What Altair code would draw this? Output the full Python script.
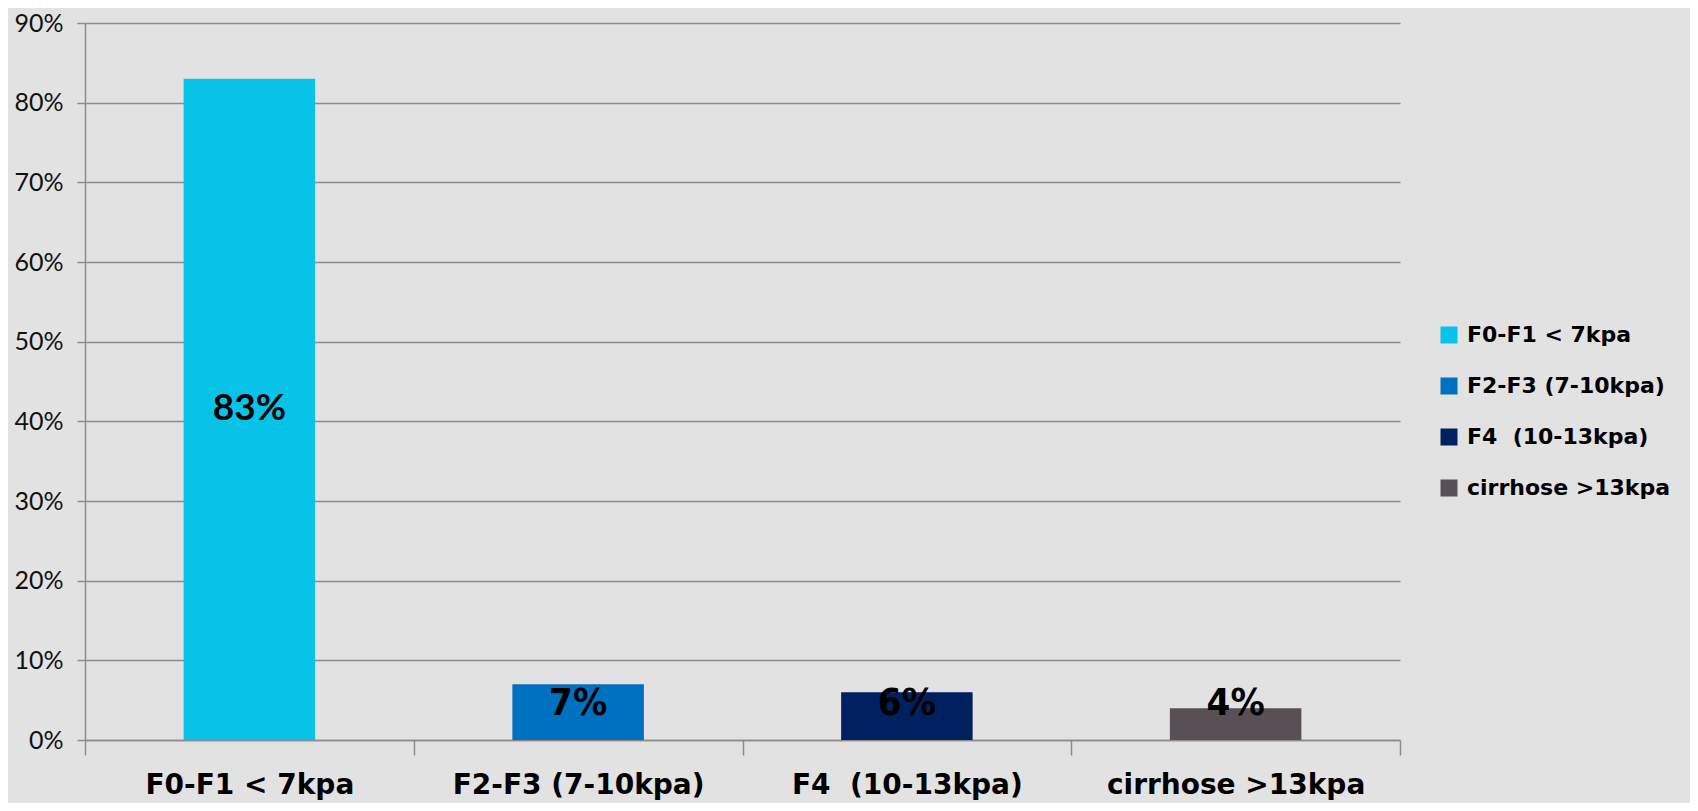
import altair as alt
import pandas as pd

categories = ["F0-F1 < 7kpa", "F2-F3 (7-10kpa)", "F4 \u00a0(10-13kpa)", "cirrhose >13kpa"]
values = [83, 7, 6, 4]
colors = ["#08C2E8", "#0070C0", "#002060", "#595055"]
y_ticks = [0, 10, 20, 30, 40, 50, 60, 70, 80, 90]

df = pd.DataFrame({"category": categories, "value": values})

GRID = "#8c8c8c"

x_scale = alt.Scale(paddingInner=0, paddingOuter=0)
x_axis = alt.Axis(
    labelAngle=0,
    tickBand="extent",
    tickSize=15,
    tickColor=GRID,
    tickWidth=1.5,
    domainColor=GRID,
    domainWidth=1.5,
    labelFont="DejaVu Sans",
    labelFontWeight="bold",
    labelFontSize=28,
    labelColor="#000000",
    labelPadding=16,
    labelLimit=400,
    grid=False,
)

y_scale = alt.Scale(domain=[0, 90])
y_axis = alt.Axis(
    values=y_ticks,
    labelExpr="datum.value + '%'",
    grid=True,
    gridColor=GRID,
    gridWidth=1.5,
    tickColor=GRID,
    tickWidth=1.5,
    tickSize=8,
    domainColor=GRID,
    domainWidth=1.5,
    labelFont="Lato",
    labelFontSize=25,
    labelColor="#111111",
    labelPadding=14,
)

bars = alt.Chart(df).mark_bar(width=alt.RelativeBandSize(0.4)).encode(
    x=alt.X("category:N", sort=categories, title=None, scale=x_scale, axis=x_axis),
    y=alt.Y("value:Q", scale=y_scale, title=None, axis=y_axis),
    color=alt.Color(
        "category:N",
        sort=categories,
        scale=alt.Scale(domain=categories, range=colors),
        legend=alt.Legend(
            title=None,
            orient="none",
            legendX=1353,
            legendY=301,
            symbolType="square",
            symbolSize=289,
            symbolStrokeWidth=0,
            labelFont="DejaVu Sans",
            labelFontWeight="bold",
            labelFontSize=22,
            labelColor="#000000",
            labelLimit=400,
            labelOffset=7,
            rowPadding=29,
        ),
    ),
)

base_text = alt.Chart(df).transform_calculate(
    label_y="datum.value > 20 ? datum.value / 2 : 4.5",
    label="datum.value + '%'",
)

big_labels = base_text.transform_filter("datum.value > 20").mark_text(
    font="Lato", fontWeight="bold", fontSize=37, color="#000000", baseline="middle"
).encode(
    x=alt.X("category:N", sort=categories, title=None, scale=x_scale, axis=x_axis),
    y=alt.Y("label_y:Q", scale=y_scale, title=None, axis=y_axis),
    text="label:N",
)

small_labels = base_text.transform_filter("datum.value <= 20").mark_text(
    font="DejaVu Sans Condensed, Liberation Sans Narrow, Liberation Sans",
    fontWeight="bold",
    fontSize=38,
    color="#000000",
    baseline="middle",
).encode(
    x=alt.X("category:N", sort=categories, title=None, scale=x_scale, axis=x_axis),
    y=alt.Y("label_y:Q", scale=y_scale, title=None, axis=y_axis),
    text="label:N",
)

chart = alt.layer(bars, big_labels, small_labels).properties(
    width=1315,
    height=717,
    background="#E2E2E2",
    padding={"left": 77, "top": 15, "right": 290, "bottom": 63},
    autosize=alt.AutoSizeParams(type="none"),
).configure_view(stroke=None)

chart.save("out.html", embed_options={"renderer": "svg", "actions": False})
